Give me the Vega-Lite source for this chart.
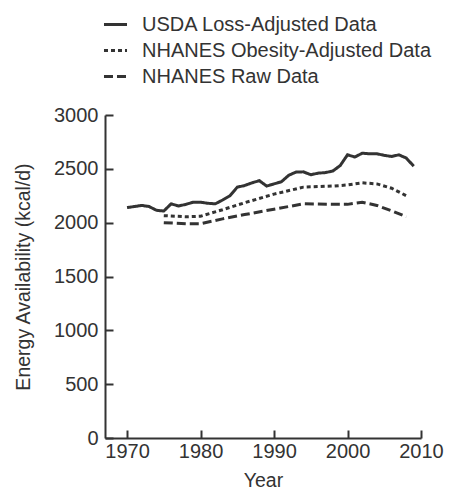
{
  "$schema": "https://vega.github.io/schema/vega-lite/v6.json",
  "width": 316,
  "height": 323,
  "autosize": {"type": "none"},
  "padding": {"left": 105, "top": 115, "right": 42, "bottom": 53},
  "background": "white",
  "config": {
    "view": {"stroke": null},
    "font": "Liberation Sans",
    "axis": {"grid": false, "labelFlush": false, "labelOverlap": false, "domainColor": "#333", "domainWidth": 2, "tickColor": "#333", "tickWidth": 2, "labelColor": "#333", "titleColor": "#333", "labelFontSize": 20, "titleFontSize": 19.5, "titleFontWeight": "normal"}
  },
  "data": {
    "values": [
      {"year": 1970, "kcal": 2140, "s": "USDA Loss-Adjusted Data"},
      {"year": 1971, "kcal": 2150, "s": "USDA Loss-Adjusted Data"},
      {"year": 1972, "kcal": 2160, "s": "USDA Loss-Adjusted Data"},
      {"year": 1973, "kcal": 2150, "s": "USDA Loss-Adjusted Data"},
      {"year": 1974, "kcal": 2115, "s": "USDA Loss-Adjusted Data"},
      {"year": 1975, "kcal": 2108, "s": "USDA Loss-Adjusted Data"},
      {"year": 1976, "kcal": 2175, "s": "USDA Loss-Adjusted Data"},
      {"year": 1977, "kcal": 2155, "s": "USDA Loss-Adjusted Data"},
      {"year": 1978, "kcal": 2170, "s": "USDA Loss-Adjusted Data"},
      {"year": 1979, "kcal": 2190, "s": "USDA Loss-Adjusted Data"},
      {"year": 1980, "kcal": 2190, "s": "USDA Loss-Adjusted Data"},
      {"year": 1981, "kcal": 2180, "s": "USDA Loss-Adjusted Data"},
      {"year": 1982, "kcal": 2175, "s": "USDA Loss-Adjusted Data"},
      {"year": 1983, "kcal": 2210, "s": "USDA Loss-Adjusted Data"},
      {"year": 1984, "kcal": 2250, "s": "USDA Loss-Adjusted Data"},
      {"year": 1985, "kcal": 2330, "s": "USDA Loss-Adjusted Data"},
      {"year": 1986, "kcal": 2345, "s": "USDA Loss-Adjusted Data"},
      {"year": 1987, "kcal": 2370, "s": "USDA Loss-Adjusted Data"},
      {"year": 1988, "kcal": 2390, "s": "USDA Loss-Adjusted Data"},
      {"year": 1989, "kcal": 2340, "s": "USDA Loss-Adjusted Data"},
      {"year": 1990, "kcal": 2360, "s": "USDA Loss-Adjusted Data"},
      {"year": 1991, "kcal": 2380, "s": "USDA Loss-Adjusted Data"},
      {"year": 1992, "kcal": 2440, "s": "USDA Loss-Adjusted Data"},
      {"year": 1993, "kcal": 2470, "s": "USDA Loss-Adjusted Data"},
      {"year": 1994, "kcal": 2472, "s": "USDA Loss-Adjusted Data"},
      {"year": 1995, "kcal": 2445, "s": "USDA Loss-Adjusted Data"},
      {"year": 1996, "kcal": 2460, "s": "USDA Loss-Adjusted Data"},
      {"year": 1997, "kcal": 2465, "s": "USDA Loss-Adjusted Data"},
      {"year": 1998, "kcal": 2480, "s": "USDA Loss-Adjusted Data"},
      {"year": 1999, "kcal": 2530, "s": "USDA Loss-Adjusted Data"},
      {"year": 2000, "kcal": 2630, "s": "USDA Loss-Adjusted Data"},
      {"year": 2001, "kcal": 2610, "s": "USDA Loss-Adjusted Data"},
      {"year": 2002, "kcal": 2645, "s": "USDA Loss-Adjusted Data"},
      {"year": 2003, "kcal": 2640, "s": "USDA Loss-Adjusted Data"},
      {"year": 2004, "kcal": 2640, "s": "USDA Loss-Adjusted Data"},
      {"year": 2005, "kcal": 2625, "s": "USDA Loss-Adjusted Data"},
      {"year": 2006, "kcal": 2615, "s": "USDA Loss-Adjusted Data"},
      {"year": 2007, "kcal": 2630, "s": "USDA Loss-Adjusted Data"},
      {"year": 2008, "kcal": 2600, "s": "USDA Loss-Adjusted Data"},
      {"year": 2009, "kcal": 2525, "s": "USDA Loss-Adjusted Data"},
      {"year": 1975, "kcal": 2065, "s": "NHANES Obesity-Adjusted Data"},
      {"year": 1978, "kcal": 2055, "s": "NHANES Obesity-Adjusted Data"},
      {"year": 1980, "kcal": 2060, "s": "NHANES Obesity-Adjusted Data"},
      {"year": 1983, "kcal": 2120, "s": "NHANES Obesity-Adjusted Data"},
      {"year": 1986, "kcal": 2185, "s": "NHANES Obesity-Adjusted Data"},
      {"year": 1990, "kcal": 2265, "s": "NHANES Obesity-Adjusted Data"},
      {"year": 1994, "kcal": 2330, "s": "NHANES Obesity-Adjusted Data"},
      {"year": 1998, "kcal": 2340, "s": "NHANES Obesity-Adjusted Data"},
      {"year": 2000, "kcal": 2350, "s": "NHANES Obesity-Adjusted Data"},
      {"year": 2002, "kcal": 2370, "s": "NHANES Obesity-Adjusted Data"},
      {"year": 2004, "kcal": 2360, "s": "NHANES Obesity-Adjusted Data"},
      {"year": 2006, "kcal": 2320, "s": "NHANES Obesity-Adjusted Data"},
      {"year": 2008, "kcal": 2250, "s": "NHANES Obesity-Adjusted Data"},
      {"year": 1975, "kcal": 2000, "s": "NHANES Raw Data"},
      {"year": 1978, "kcal": 1990, "s": "NHANES Raw Data"},
      {"year": 1980, "kcal": 1990, "s": "NHANES Raw Data"},
      {"year": 1983, "kcal": 2035, "s": "NHANES Raw Data"},
      {"year": 1986, "kcal": 2075, "s": "NHANES Raw Data"},
      {"year": 1990, "kcal": 2125, "s": "NHANES Raw Data"},
      {"year": 1994, "kcal": 2175, "s": "NHANES Raw Data"},
      {"year": 1998, "kcal": 2170, "s": "NHANES Raw Data"},
      {"year": 2000, "kcal": 2170, "s": "NHANES Raw Data"},
      {"year": 2002, "kcal": 2190, "s": "NHANES Raw Data"},
      {"year": 2004, "kcal": 2160, "s": "NHANES Raw Data"},
      {"year": 2006, "kcal": 2110, "s": "NHANES Raw Data"},
      {"year": 2008, "kcal": 2055, "s": "NHANES Raw Data"}
    ]
  },
  "layer": [
    {
      "mark": {"type": "line", "color": "#333", "strokeWidth": 3},
      "encoding": {
        "x": {"field": "year", "type": "quantitative", "scale": {"domain": [1967, 2010], "nice": false, "zero": false},
          "axis": {"orient": "bottom", "values": [1970, 1980, 1990, 2000, 2010], "format": "d", "ticks": false, "labelPadding": 3, "title": "Year", "titleY": 42, "titleBaseline": "middle"}},
        "y": {"field": "kcal", "type": "quantitative", "scale": {"domain": [0, 3000], "nice": false},
          "axis": {"orient": "left", "values": [0, 500, 1000, 1500, 2000, 2500, 3000], "format": "d", "ticks": false, "labelPadding": 7, "title": "Energy Availability (kcal/d)", "titleX": -82, "titleAngle": 270, "titleAlign": "center", "titleBaseline": "middle"}},
        "strokeDash": {"field": "s", "type": "nominal",
          "scale": {"domain": ["USDA Loss-Adjusted Data", "NHANES Obesity-Adjusted Data", "NHANES Raw Data"], "range": [[1, 0], [4, 3], [9, 4]]},
          "legend": {"title": null, "orient": "none", "legendX": -3, "legendY": -104, "symbolType": "stroke", "symbolSize": 530, "symbolStrokeWidth": 3, "symbolStrokeColor": "#333", "labelFontSize": 20, "labelColor": "#333", "labelLimit": 0, "labelOffset": 13, "rowPadding": 2}}
      }
    },
    {
      "mark": {"type": "point", "opacity": 0},
      "encoding": {
        "x": {"field": "year", "type": "quantitative",
          "axis": {"orient": "top", "offset": -323, "values": [1970, 1980, 1990, 2000, 2010], "tickSize": 8, "domain": false, "labels": false, "title": null}},
        "y": {"field": "kcal", "type": "quantitative",
          "axis": {"orient": "right", "offset": -316, "values": [0, 500, 1000, 1500, 2000, 2500, 3000], "tickSize": 8, "domain": false, "labels": false, "title": null}}
      }
    }
  ],
  "resolve": {"axis": {"x": "independent", "y": "independent"}}
}
